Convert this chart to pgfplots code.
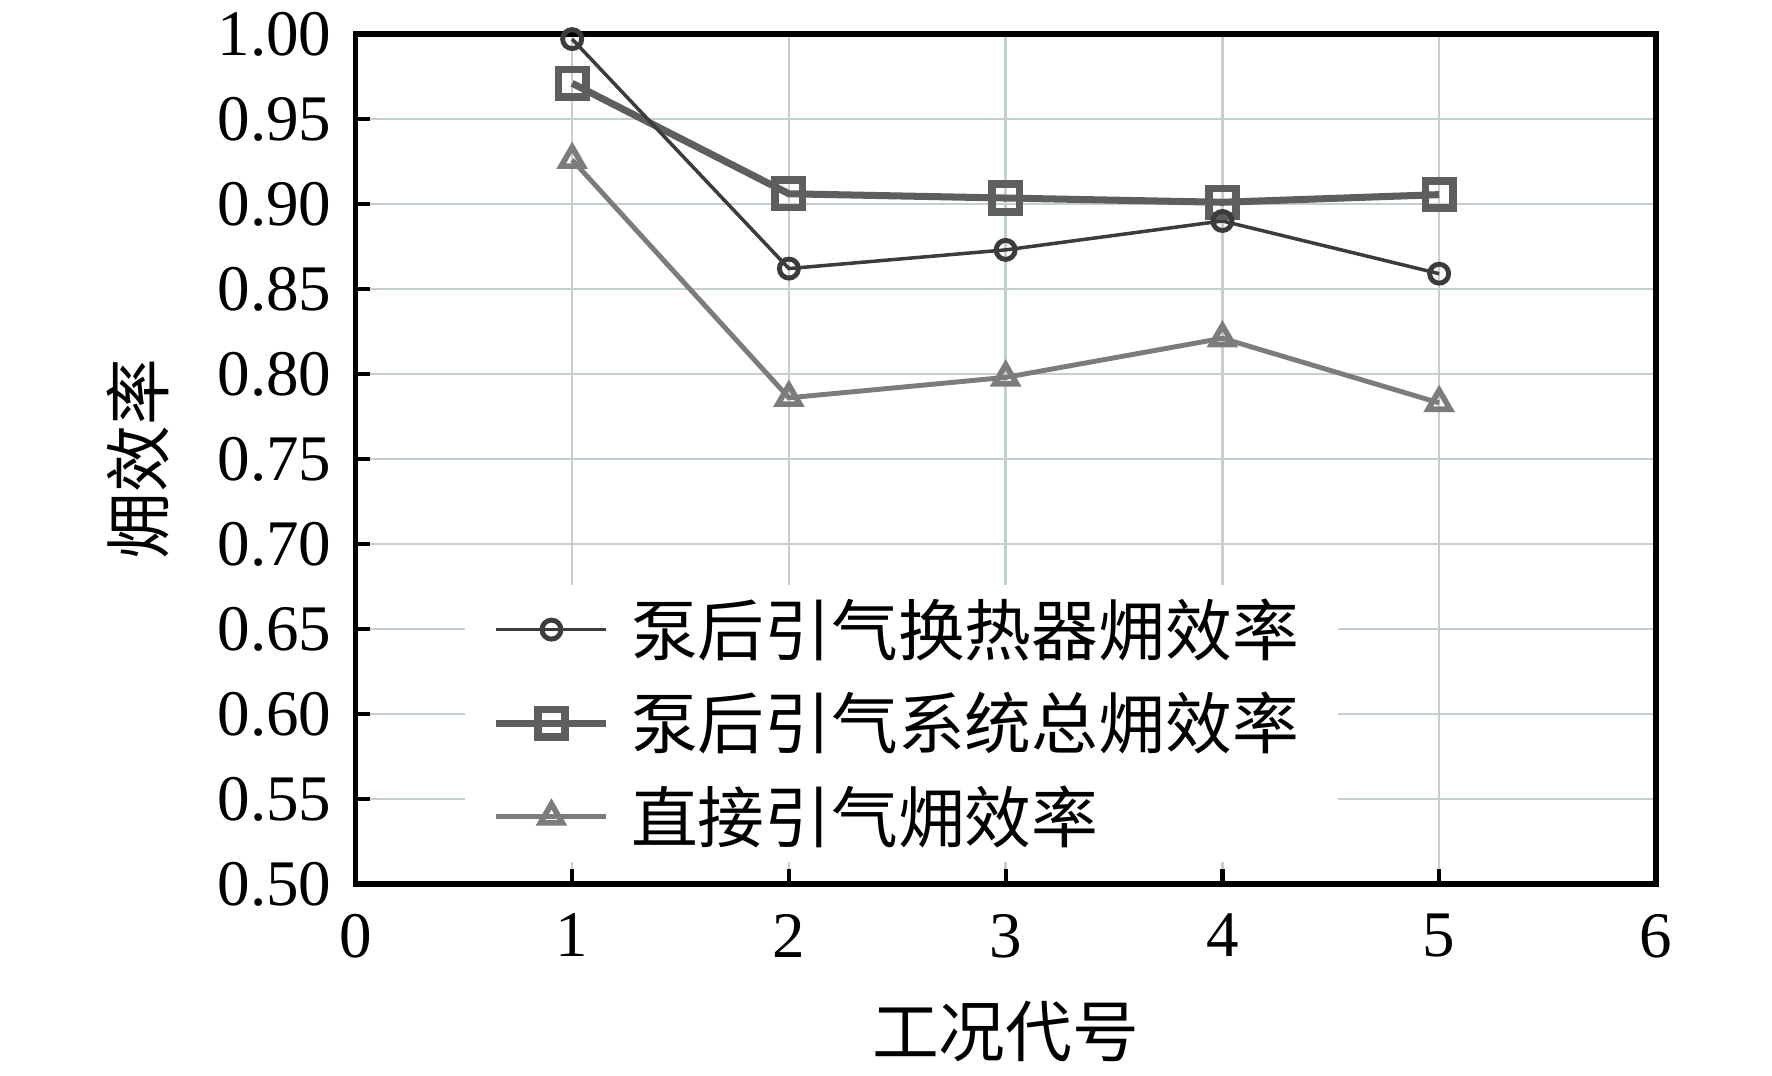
\documentclass[border=0pt]{standalone}
\usepackage{fontspec}
\setmainfont{Liberation Serif}
\newfontfamily\cjk{Noto Sans CJK SC}
\usepackage{pgfplots}
\pgfplotsset{compat=1.18}
\definecolor{gridc}{HTML}{C5D0CC}
\definecolor{sA}{HTML}{3C3C3C}
\definecolor{sB}{HTML}{5E5E5E}
\definecolor{sC}{HTML}{7C7C7C}
\pgfplotsset{
  basegeom/.style={
    scale only axis,
    width=13.005cm, height=8.50cm,
    xmin=0, xmax=6, ymin=0.5, ymax=1.0,
  },
  mylegend/.style={
    legend style={at={(rel axis cs:0.0836,0.353)}, anchor=north west, draw=none, fill=white,
      font=\cjk\fontsize{19}{22}\selectfont, row sep=3pt, inner xsep=8pt, inner ysep=1pt,
      nodes={inner sep=3pt},
      /tikz/every odd column/.append style={column sep=3pt}},
    legend cell align=left,
    legend image code/.code={\draw[mark repeat=2,mark phase=2] plot coordinates {(0cm,0cm)(0.55cm,0cm)(1.1cm,0cm)};},
  },
  styA/.style={color=sA, line width=1pt, mark=o, mark size=2.7pt, mark options={line width=1.4pt, fill=white}},
  styB/.style={color=sB, line width=2pt, mark=square, mark size=3.9pt, mark options={line width=2.2pt, fill=white}},
  styC/.style={color=sC, line width=1.4pt, mark=triangle, mark size=3.6pt, mark options={line width=1.6pt, fill=white}},
}
\begin{document}
\begin{tikzpicture}
\begin{axis}[
  basegeom,
  xtick={0,1,2,3,4,5,6},
  ytick={0.50,0.55,0.60,0.65,0.70,0.75,0.80,0.85,0.90,0.95,1.00},
  xtick pos=bottom, ytick pos=left,
  yticklabel style={/pgf/number format/fixed,/pgf/number format/fixed zerofill,/pgf/number format/precision=2, xshift=-3.3pt},
  /pgf/number format/assume math mode=true,
  tick align=inside,
  major tick length=0.15cm,
  tick style={black, line width=1.2pt},
  axis line style={black, line width=1.6pt},
  grid=major,
  major grid style={gridc, line width=0.7pt},
  ticklabel style={font=\fontsize{18.5}{22}\selectfont},
  xticklabel style={yshift=-5pt},
  xlabel={\cjk\fontsize{19}{22}\selectfont 工况代号},
  ylabel={\cjk\fontsize{19}{22}\selectfont 㶲效率},
  xlabel style={at={(axis description cs:0.5,0)}, anchor=center, yshift=-1.48cm},
  ylabel style={at={(axis description cs:-0.1671,0.5)}, anchor=center, rotate=0},
]
\addplot[styB] coordinates {(1,0.971) (2,0.906) (3,0.9035) (4,0.901) (5,0.9055)};
\addplot[styA] coordinates {(1,0.997) (2,0.862) (3,0.873) (4,0.890) (5,0.859)};
\addplot[styC] coordinates {(1,0.926) (2,0.786) (3,0.798) (4,0.821) (5,0.783)};
\end{axis}
\begin{axis}[
  basegeom,
  hide axis,
  mylegend,
]
\addlegendimage{styA}
\addlegendentry{泵后引气换热器㶲效率}
\addlegendimage{styB}
\addlegendentry{泵后引气系统总㶲效率}
\addlegendimage{styC}
\addlegendentry{直接引气㶲效率}
\end{axis}
\path ([xshift=-3.554cm,yshift=-1.92cm]current axis.south west) rectangle ([xshift=1.161cm,yshift=0.34cm]current axis.north east);
\end{tikzpicture}
\end{document}
